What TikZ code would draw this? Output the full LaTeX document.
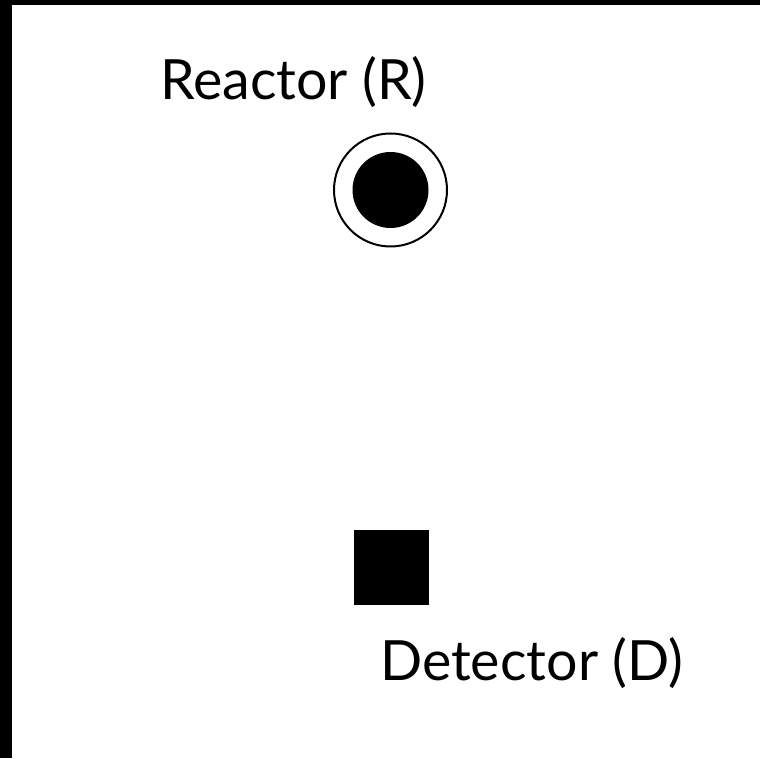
\documentclass[tikz,border=0pt]{standalone}
\usepackage{fontspec}
\setmainfont{Lato}
\begin{document}
\begin{tikzpicture}[x=1pt,y=1pt,
  lbl/.style={anchor=base west,inner sep=0pt,font=\fontsize{55.5}{66}\selectfont}]
\useasboundingbox (0,0) rectangle (760,758);
\fill[white] (0,0) rectangle (760,758);
\fill[black] (0,753) rectangle (760,758);
\fill[black] (0,0) rectangle (12,758);
\node[lbl] (rl) at (160,658) {Reactor (R)};
\node[circle,draw,line width=2pt,minimum size=113pt,inner sep=0pt] (r) at (390.5,568) {};
\node[circle,fill=black,minimum size=76pt,inner sep=0pt] (rc) at (390.5,568) {};
\node[fill=black,minimum size=75pt,inner sep=0pt] (d) at (391.5,190.5) {};
\node[lbl] (dl) at (380,78) {Detector (D)};
\end{tikzpicture}
\end{document}
